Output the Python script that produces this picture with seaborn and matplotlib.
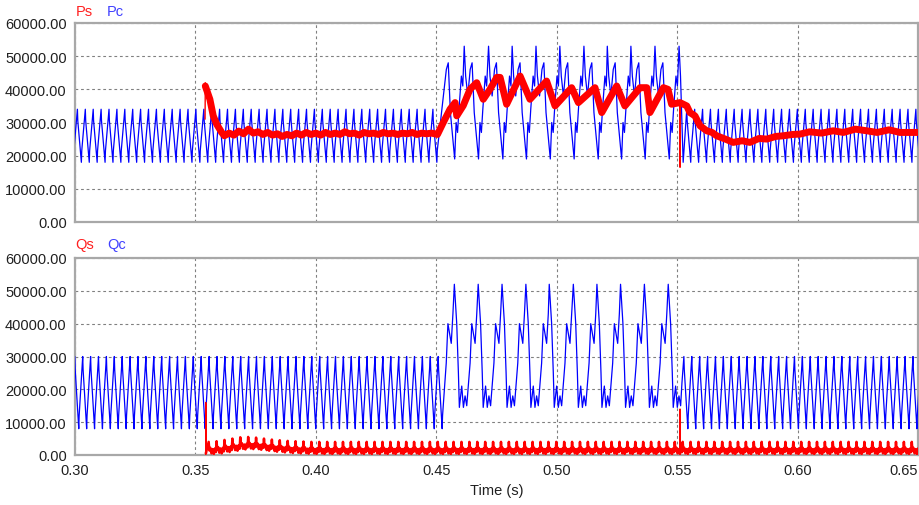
import numpy as np
import pandas as pd
import seaborn as sns
import matplotlib.pyplot as plt

#%% data
# ripple period (~300 Hz) and slow swing period (~100 Hz) between 0.452 and 0.555 s
T_RIP = 0.00328
T_LOW = 0.0099

# one ripple cycle, phase measured from the peak
pc_cyc_ph = [0.0, 0.05, 0.5, 0.55]
pc_cyc_v = [34000, 30500, 18000, 21500]
qc_cyc_ph = [0.0, 0.05, 0.5, 0.55]
qc_cyc_v = [30000, 26000, 8000, 12000]

# first / last ripple peaks of the steady parts
pc_steady1 = (0.3010 - T_RIP, 0.4490)
pc_steady2 = (0.5540, 0.6530)
qc_steady1 = (0.3032 - T_RIP, 0.4510)
qc_steady2 = (0.5528, 0.6530)

# slow swing cycle (phase from the big peak)
pc_mid_ph = [0.0, 0.06, 0.15, 0.25, 0.33, 0.42, 0.6, 0.66, 0.72, 0.78, 0.88, 0.94]
pc_mid_v = [53000, 44000, 38000, 46000, 48000, 33000, 19000, 30000, 27000, 34000, 44000, 41000]
pc_mid_peaks = [0.4517, 0.4616, 0.4717, 0.4815, 0.4914, 0.5013, 0.5113, 0.5210, 0.5308, 0.5408, 0.5508]

qc_mid_ph = [0.0, 0.1, 0.17, 0.21, 0.31, 0.38, 0.45, 0.52, 0.66, 0.73, 0.87, 0.94]
qc_mid_v = [52000, 40000, 25000, 14500, 21000, 14500, 18000, 15000, 28000, 40000, 34000, 43000]
qc_mid_peaks = [0.4476, 0.4575, 0.4674, 0.4773, 0.4872, 0.4969, 0.5069, 0.5167, 0.5265, 0.5364, 0.5463]

# Ps (red, top) - centre of the ribbon
ps_t = [0.3541, 0.3560, 0.3574, 0.3588, 0.3609, 0.362, 0.364, 0.366, 0.368, 0.370, 0.372, 0.374,
        0.376, 0.378, 0.380, 0.382, 0.384, 0.386, 0.388, 0.390, 0.392, 0.394, 0.396, 0.398,
        0.400, 0.402, 0.404, 0.406, 0.408, 0.410, 0.412, 0.414, 0.416, 0.418, 0.420, 0.422,
        0.424, 0.426, 0.428, 0.430, 0.432, 0.434, 0.436, 0.438, 0.440, 0.442, 0.444, 0.446,
        0.448, 0.4505, 0.4529, 0.4557, 0.4578, 0.4585, 0.4612, 0.4640, 0.4668, 0.4695, 0.4723,
        0.4751, 0.4765, 0.4792, 0.4848, 0.4889, 0.4958, 0.4993, 0.5062, 0.5090, 0.5159, 0.5187,
        0.5249, 0.5283, 0.5346, 0.5374, 0.5387, 0.5443, 0.5462, 0.5477, 0.5512, 0.5540, 0.5553,
        0.5574, 0.5595, 0.5623, 0.5645, 0.5664, 0.570, 0.5733, 0.577, 0.5802, 0.584, 0.5872,
        0.591, 0.5941, 0.598, 0.6010, 0.605, 0.610, 0.6148, 0.619, 0.624, 0.6287, 0.633, 0.638,
        0.6425, 0.6500]
ps_v = [41000, 37000, 32000, 29500, 27000, 26000, 26800, 26200, 27400, 26600, 28000, 26800,
        27200, 26400, 27000, 26200, 26600, 25800, 26400, 26000, 26800, 26200, 27000, 26400,
        26800, 26200, 27000, 26400, 26800, 26400, 27200, 26600, 26800, 26200, 27000, 26600,
        26800, 26400, 27000, 26600, 26800, 26400, 26800, 26600, 27000, 26400, 26800, 26600,
        26800, 26400, 30000, 34000, 36000, 32000, 35100, 40000, 42000, 37000, 40000,
        43600, 43600, 35500, 44000, 37000, 42500, 35000, 40500, 36000, 40500, 33000,
        41000, 35000, 40500, 40500, 33000, 40500, 40000, 35500, 36000, 35000, 33000,
        32000, 29000, 27500, 27000, 26000, 25000, 24000, 24500, 24000, 25200, 25000,
        25800, 26000, 26400, 26500, 27200, 26800, 27500, 27000, 28000, 27500, 27000, 27800,
        27000, 27000]
# thin spikes of Ps (nan = break)
ps_spk_t = [0.3540, 0.3541, np.nan, 0.5511, 0.5512, 0.5513]
ps_spk_v = [31000, 42000, np.nan, 36000, 16500, 36000]

# Qs (red, bottom): one ripple cycle + slow offset after the step
qs_cyc_ph = [0.0, 0.08, 0.2, 0.35, 0.5, 0.65, 0.8, 0.92]
qs_cyc_v = [4000, 1400, 2200, 500, 1800, 300, 2000, 900]
qs_start = 0.3543
qs_first_peak = 0.3555
qs_offset = [0, 200, 600, 1000, 1400, 1500, 1300, 1000, 700, 500, 300, 200, 100]
qs_spk_t = [0.3543, 0.3543, 0.3546, np.nan, 0.5511, 0.5512, 0.5513]
qs_spk_v = [0, 16000, 500, np.nan, 1000, 14000, 1000]


#%% build the traces
def tile(starts, ph, v, period):
    starts = np.asarray(starts)
    t = (starts[:, None] + np.asarray(ph)[None, :] * period).ravel()
    return t, np.tile(v, len(starts))


def steady(span, ph, v):
    return tile(np.arange(span[0], span[1], T_RIP), ph, v, T_RIP)


def middle(peaks, ph, v, first_from, last_to):
    ts, vs = [], []
    for i, p in enumerate(peaks):
        for f, y in zip(ph, v):
            if i == 0 and f < first_from:
                continue
            if i == len(peaks) - 1 and f > last_to:
                continue
            ts.append(p + f * T_LOW)
            vs.append(y)
    return np.array(ts), np.array(vs)


a = steady(pc_steady1, pc_cyc_ph, pc_cyc_v)
b = middle(pc_mid_peaks, pc_mid_ph, pc_mid_v, 0.25, 0.1)
c = steady(pc_steady2, pc_cyc_ph, pc_cyc_v)
pc = pd.DataFrame({'t': np.concatenate([a[0], b[0], [0.5525], c[0]]),
                   'v': np.concatenate([a[1], b[1], [18000], c[1]])})

a = steady(qc_steady1, qc_cyc_ph, qc_cyc_v)
b = middle(qc_mid_peaks, qc_mid_ph, qc_mid_v, 0.66, 0.52)
c = steady(qc_steady2, qc_cyc_ph, qc_cyc_v)
qc = pd.DataFrame({'t': np.concatenate([a[0], b[0], [0.5520], c[0]]),
                   'v': np.concatenate([a[1], b[1], [22000], c[1]])})

qt, qv = tile(np.arange(qs_first_peak, 0.652, T_RIP), qs_cyc_ph, qs_cyc_v, T_RIP)
qv = qv.astype(float)
off = np.zeros(len(qt))
off[:len(qs_offset) * len(qs_cyc_ph)] = np.repeat(qs_offset, len(qs_cyc_ph))
qs = pd.DataFrame({'t': np.concatenate([[qs_start], qt]),
                   'v': np.concatenate([[500], qv + off])})

ps = pd.DataFrame({'t': ps_t, 'v': ps_v})

#%% plot
sns.set_style('white')
plt.rcParams['font.family'] = ['Liberation Sans', 'DejaVu Sans']

fig = plt.figure(figsize=(9.2, 5.06), dpi=100)
W, H = 920, 506
ax1 = fig.add_axes([75 / W, 1 - 223 / H, 843 / W, 199 / H])
ax2 = fig.add_axes([75 / W, 1 - 456 / H, 843 / W, 197 / H])

kw = dict(sort=False, estimator=None, legend=False)
sns.lineplot(data=pc, x='t', y='v', color='#0000ff', lw=0.9, ax=ax1, zorder=3, **kw)
sns.lineplot(data=ps, x='t', y='v', color='red', lw=5.0, ax=ax1, zorder=4, **kw)
ax1.plot(ps_spk_t, ps_spk_v, color='red', lw=1.0, zorder=4)

sns.lineplot(data=qc, x='t', y='v', color='#0000ff', lw=0.9, ax=ax2, zorder=3, **kw)
sns.lineplot(data=qs, x='t', y='v', color='red', lw=1.8, ax=ax2, zorder=4, **kw)
ax2.plot(qs_spk_t, qs_spk_v, color='red', lw=1.0, zorder=4)

xt = np.arange(0.30, 0.651, 0.05)
yt = np.arange(0, 60001, 10000)
for ax in (ax1, ax2):
    ax.set_xlim(0.30, 0.65)
    ax.set_ylim(0, 60000)
    ax.set_xticks(xt)
    ax.set_yticks(yt)
    ax.set_yticklabels([f'{v:.2f}' for v in yt])
    ax.grid(True, color='#808080', ls=(0, (2.5, 2.5)), lw=0.8)
    ax.tick_params(length=0, labelsize=10.5, colors='#202020', pad=6)
    for s in ax.spines.values():
        s.set_color('#a8a8a8')
        s.set_linewidth(1.6)
    ax.set_ylabel('')
    ax.set_xlabel('')

ax1.set_xticklabels([])
ax2.set_xticklabels([f'{v:.2f}' for v in xt])
ax2.get_xticklabels()[-1].set_horizontalalignment('right')
ax2.set_xlabel('Time (s)', fontsize=10.5, color='#202020', labelpad=4)

fig.text(76 / W, 1 - 12 / H, 'Ps', color='#ff2020', fontsize=10.5, va='center')
fig.text(107 / W, 1 - 12 / H, 'Pc', color='#4040ff', fontsize=10.5, va='center')
fig.text(75 / W, 1 - 245 / H, 'Qs', color='#ff2020', fontsize=10.5, va='center')
fig.text(107 / W, 1 - 245 / H, 'Qc', color='#4040ff', fontsize=10.5, va='center')

fig.savefig('out.png', dpi=100)
